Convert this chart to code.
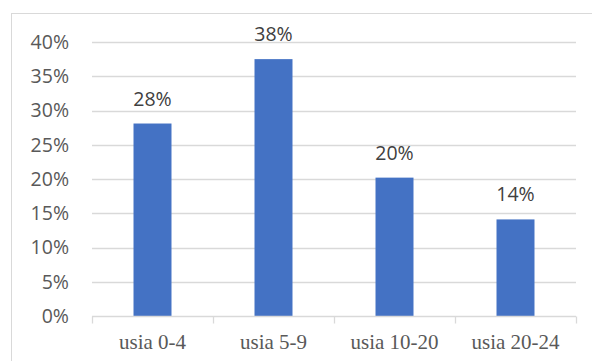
<!DOCTYPE html>
<html>
<head>
<meta charset="utf-8">
<script src="https://cdn.jsdelivr.net/npm/d3@7"></script>
<style>
  body { margin: 0; background: #fff; }
  svg { display: block; }
</style>
</head>
<body>
<div id="chart"></div>
<script>
// values
const categories = ["usia 0-4", "usia 5-9", "usia 10-20", "usia 20-24"];
const shares = [0.281, 0.375, 0.202, 0.141];
const yTicks = [0, 0.05, 0.1, 0.15, 0.2, 0.25, 0.3, 0.35, 0.4];

const width = 592;
const height = 361;
const margin = { top: 42, right: 16, bottom: 45, left: 92 };

const svg = d3
  .select("#chart")
  .append("svg")
  .attr("width", width)
  .attr("height", height);

// chart area frame (runs off the right and bottom edge)
svg
  .append("rect")
  .attr("x", 11.5)
  .attr("y", 13.5)
  .attr("width", width)
  .attr("height", height)
  .attr("fill", "none")
  .attr("stroke", "#d9d9d9");

const x = d3
  .scaleBand()
  .domain(categories)
  .range([margin.left, width - margin.right])
  .paddingInner(0.686)
  .paddingOuter(0.343);

const band = d3
  .scaleBand()
  .domain(categories)
  .range([margin.left, width - margin.right]);

const y = d3
  .scaleLinear()
  .domain([0, 0.4])
  .range([height - margin.bottom, margin.top]);

// gridlines
svg
  .append("g")
  .selectAll("line")
  .data(yTicks.filter((d) => d > 0))
  .join("line")
  .attr("x1", margin.left)
  .attr("x2", width - margin.right)
  .attr("y1", (d) => Math.round(y(d)) + 0.5)
  .attr("y2", (d) => Math.round(y(d)) + 0.5)
  .attr("stroke", "#d9d9d9")
  .attr("stroke-width", 1.3);

// y axis labels
const yAxis = svg
  .append("g")
  .attr("transform", `translate(${margin.left},0)`)
  .call(
    d3
      .axisLeft(y)
      .tickValues(yTicks)
      .tickFormat(d3.format(".0%"))
      .tickSize(0)
      .tickPadding(23)
  );
yAxis.select(".domain").remove();
yAxis
  .selectAll("text")
  .attr("fill", "#595959")
  .style("font-family", "'Open Sans', sans-serif")
  .style("font-size", "19.5px");

// bars
svg
  .append("g")
  .selectAll("rect")
  .data(shares)
  .join("rect")
  .attr("x", (d, i) => x(categories[i]))
  .attr("y", (d) => y(d))
  .attr("width", x.bandwidth())
  .attr("height", (d) => y(0) - y(d))
  .attr("fill", "#4472c4");

// data labels
svg
  .append("g")
  .selectAll("text")
  .data(shares)
  .join("text")
  .attr("x", (d, i) => x(categories[i]) + x.bandwidth() / 2)
  .attr("y", (d) => y(d) - 18)
  .attr("text-anchor", "middle")
  .attr("fill", "#404040")
  .style("font-family", "'Open Sans', sans-serif")
  .style("font-size", "19.5px")
  .text((d) => d3.format(".0%")(d));

// x axis: baseline with ticks between categories
const y0 = Math.round(y(0)) + 0.5;
svg
  .append("line")
  .attr("x1", margin.left)
  .attr("x2", width - margin.right)
  .attr("y1", y0)
  .attr("y2", y0)
  .attr("stroke", "#d9d9d9")
  .attr("stroke-width", 1.3);

const boundaries = categories.map((c) => band(c)).concat([width - margin.right]);
svg
  .append("g")
  .selectAll("line")
  .data(boundaries)
  .join("line")
  .attr("x1", (d) => Math.round(d) + 0.5)
  .attr("x2", (d) => Math.round(d) + 0.5)
  .attr("y1", y0)
  .attr("y2", y0 + 7)
  .attr("stroke", "#d9d9d9")
  .attr("stroke-width", 1.3);

svg
  .append("g")
  .selectAll("text")
  .data(categories)
  .join("text")
  .attr("x", (d) => band(d) + band.bandwidth() / 2)
  .attr("y", y0 + 32)
  .attr("text-anchor", "middle")
  .attr("fill", "#595959")
  .style("font-family", "'Liberation Serif', 'Times New Roman', serif")
  .style("font-size", "21px")
  .text((d) => d);
</script>
</body>
</html>
